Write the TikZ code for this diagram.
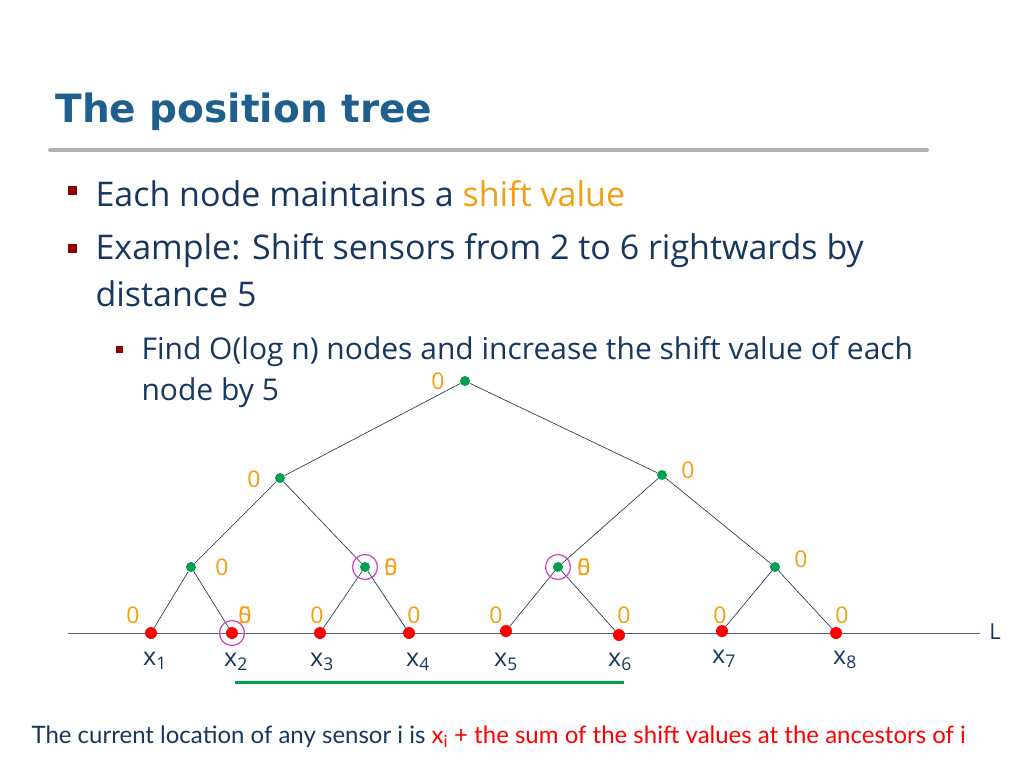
\documentclass[tikz,border=0pt]{standalone}
\usepackage{fontspec}
\setmainfont{Open Sans}
\newfontfamily\titlefont{DejaVu Sans}
\newfontfamily\notefont{Lato}
\usetikzlibrary{positioning}
\definecolor{titleblue}{RGB}{31,95,140}
\definecolor{textblue}{RGB}{23,55,94}
\definecolor{shiftorange}{RGB}{240,160,20}
\definecolor{inner}{RGB}{0,160,80}
\begin{document}
\begin{tikzpicture}[x=1pt,y=-1pt,
	inode/.style={circle, fill=inner, inner sep=0pt, minimum size=10pt},
	leaf/.style={circle, fill=red, inner sep=0pt, minimum size=12pt},
	val/.style={text=shiftorange, font=\fontsize{23}{23}\selectfont, inner sep=0pt},
	xlab/.style={text=textblue, font=\fontsize{25}{25}\selectfont, inner sep=0pt},
	ring/.style={circle, draw=violet!60!magenta!70, line width=1.3pt, minimum size=25pt, inner sep=0pt},
	edge/.style={draw=textblue!80!black, line width=0.6pt},
	bullet/.style={fill=red!55!black, minimum size=9pt, inner sep=0pt}
	]
	\useasboundingbox (0,0) rectangle (1024,768);

	% header
	\node (title) [anchor=west, text=titleblue, font=\titlefont\bfseries\fontsize{39}{39}\selectfont] at (52,112) {The position tree};
	\draw [line width=4pt, gray!60, line cap=round] (50,150) -- (927,150);
	\node (b1) [bullet] at (72,190) {};
	\node (b2) [bullet] at (72,248) {};
	\node (b3) [bullet, minimum size=7pt] at (119,349) {};
	\node (t1) [anchor=west, text=textblue, font=\fontsize{34}{34}\selectfont] at (92,194) {Each node maintains a \textcolor{shiftorange}{shift value}};
	\node (t2) [anchor=north west, text=textblue, align=left, font=\fontsize{34}{47}\selectfont] at (92,230) {Example: Shift sensors from 2 to 6 rightwards by\\distance 5};
	\node (t3) [anchor=north west, text=textblue, align=left, font=\fontsize{30}{41}\selectfont] at (138,333) {Find O(log n) nodes and increase the shift value of each\\node by 5};

	% baseline
	\coordinate (Lstart) at (68,633);
	\coordinate (Lend) at (980,633);
	\draw [gray!60!textblue, line width=0.8pt] (Lstart) -- (Lend);
	\node (L) [xlab, font=\fontsize{22}{22}\selectfont] at (995,632) {L};

	% tree nodes
	\node (r) [inode] at (465,381) {};
	\node (a) [inode] at (280,478) {};
	\node (b) [inode] at (662,475) {};
	\node (c) [inode] at (191,567) {};
	\node (d) [inode] at (365,567) {};
	\node (e) [inode] at (558,567) {};
	\node (f) [inode] at (775,567) {};
	\foreach \n/\x/\y in {1/151/633, 2/232/633, 3/320/633, 4/409/633, 5/506/631, 6/619/635, 7/722/631, 8/836/633}
		\node (x\n) [leaf] at (\x,\y) {};

	% edges
	\foreach \p/\q in {r/a, r/b, a/c, a/d, b/e, b/f, c/x1, c/x2, d/x3, d/x4, e/x5, e/x6, f/x7, f/x8}
		\draw [edge] (\p) -- (\q);

	% marked nodes
	\node (m1) [ring] at (x2) {};
	\node (m2) [ring] at (d) {};
	\node (m3) [ring] at (e) {};

	% shift values
	\node (vr) [val] at (438,381) {0};
	\node (va) [val] at (254,479) {0};
	\node (vb) [val] at (688,470) {0};
	\node (vc) [val] at (222,567) {0};
	\node (vd) [val] at (391,567) {0};
	\node (vd5) [val] at (391,567) {5};
	\node (ve) [val] at (584,567) {0};
	\node (ve5) [val] at (584,567) {5};
	\node (vf) [val] at (801,559) {0};
	\foreach \n/\x in {1/133, 2/245, 3/317, 4/414, 5/496, 6/624, 7/720, 8/842}
		\node (v\n) [val] at (\x,615) {0};
	\node (v25) [val] at (245,615) {5};

	% leaf labels
	\foreach \n/\x/\y in {1/155/661, 2/236/662, 3/322/662, 4/418/662, 5/506/662, 6/620/662, 7/724/659, 8/845/660}
		\node (lx\n) [xlab] at (\x,\y) {x\textsubscript{\n}};

	% range
	\coordinate (g1) at (235,682);
	\coordinate (g2) at (624,682);
	\draw [inner, line width=3pt] (g1) -- (g2);

	% footer
	\node (note) [anchor=west, font=\notefont\fontsize{24}{24}\selectfont, text=textblue] at (28,737) {The current location of any sensor i is \textcolor{red}{x\textsubscript{i} + the sum of the shift values at the ancestors of i}};
\end{tikzpicture}
\end{document}
